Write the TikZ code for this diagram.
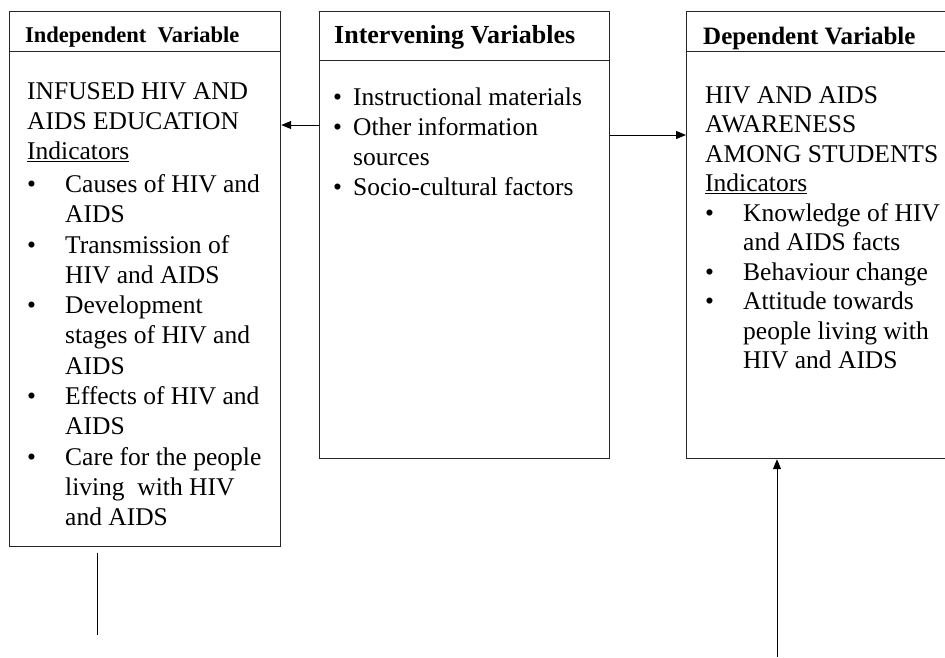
\documentclass[tikz,border=0pt]{standalone}
\usepackage{fontspec}
\setmainfont{Liberation Serif}
\usetikzlibrary{arrows.meta}
\newcommand{\bodyfont}{\fontsize{25.5}{30.3}\selectfont}
\newcommand{\tline}[1]{\hbox{#1}}
\newcommand{\bitem}[2][38pt]{\hbox{\makebox[#1][l]{\textbullet}#2}}
\newcommand{\cont}[2][38pt]{\hbox{\hspace*{#1}#2}}
\begin{document}
\begin{tikzpicture}[x=1pt,y=-1pt,
  frame/.style={draw=black!85, line width=1.2pt, inner sep=0pt, anchor=north west},
  txt/.style={anchor=base west, inner sep=0pt},
  hdr/.style={anchor=base west, inner sep=0pt, font=\bfseries\fontsize{#1}{#1}\selectfont},
  arr/.style={line width=1pt, -{Triangle[length=10pt,width=8pt]}},
  plain/.style={line width=1pt}]
\useasboundingbox (0,0) rectangle (945,657);
\clip (0,0) rectangle (945,657);

% boxes
\node[frame, minimum width=271pt, minimum height=535pt] (L) at (9,11) {};
\node[frame, minimum width=271pt, minimum height=40pt] (Lh) at (9,11) {};
\node[frame, minimum width=290pt, minimum height=447pt] (M) at (319,11) {};
\node[frame, minimum width=290pt, minimum height=49pt] (Mh) at (319,11) {};
\node[frame, minimum width=270pt, minimum height=447pt] (R) at (686,11) {};
\node[frame, minimum width=270pt, minimum height=40pt] (Rh) at (686,11) {};

% headers
\node[hdr=22.5] (LhT) at (25,42) {Independent\ \ Variable};
\node[hdr=26] (MhT) at (334,43) {Intervening Variables};
\node[hdr=25] (RhT) at (703,44) {Dependent Variable};

% left body
\node[txt] (Lt) at (27,99) {\vtop{\bodyfont
  \tline{INFUSED HIV AND}
  \tline{AIDS EDUCATION}
  \tline{\underline{Indicators}}
  \vskip 2.5pt
  \bitem{Causes of HIV and}
  \cont{AIDS}
  \bitem{Transmission of}
  \cont{HIV and AIDS}
  \bitem{Development}
  \cont{stages of HIV and}
  \cont{AIDS}
  \bitem{Effects of HIV and}
  \cont{AIDS}
  \bitem{Care for the people}
  \cont{living\ \ with HIV}
  \cont{and AIDS}}};

% middle body
\node[txt] (Mt) at (333,105) {\vtop{\bodyfont
  \bitem[20pt]{Instructional materials}
  \bitem[20pt]{Other information}
  \cont[20pt]{sources}
  \bitem[20pt]{Socio-cultural factors}}};

% right body
\node[txt] (Rt) at (705,103) {\vtop{\fontsize{25.5}{29.5}\selectfont
  \tline{HIV AND AIDS}
  \tline{AWARENESS}
  \tline{AMONG STUDENTS}
  \tline{\underline{Indicators}}
  \bitem{Knowledge of HIV}
  \cont{and AIDS facts}
  \bitem{Behaviour change}
  \bitem{Attitude towards}
  \cont{people living with}
  \cont{HIV and AIDS}}};

% connectors
\coordinate (a1) at (0,125);
\coordinate (a2) at (0,135);
\draw[arr] (M.west |- a1) -- (L.east |- a1);
\draw[arr] (M.east |- a2) -- (R.west |- a2);
\coordinate (ls) at (97,553);
\coordinate (le) at (97,635);
\draw[plain] (ls) -- (le);
\coordinate (rb) at (777,657);
\draw[arr] (rb) -- (R.south -| rb);
\end{tikzpicture}
\end{document}
